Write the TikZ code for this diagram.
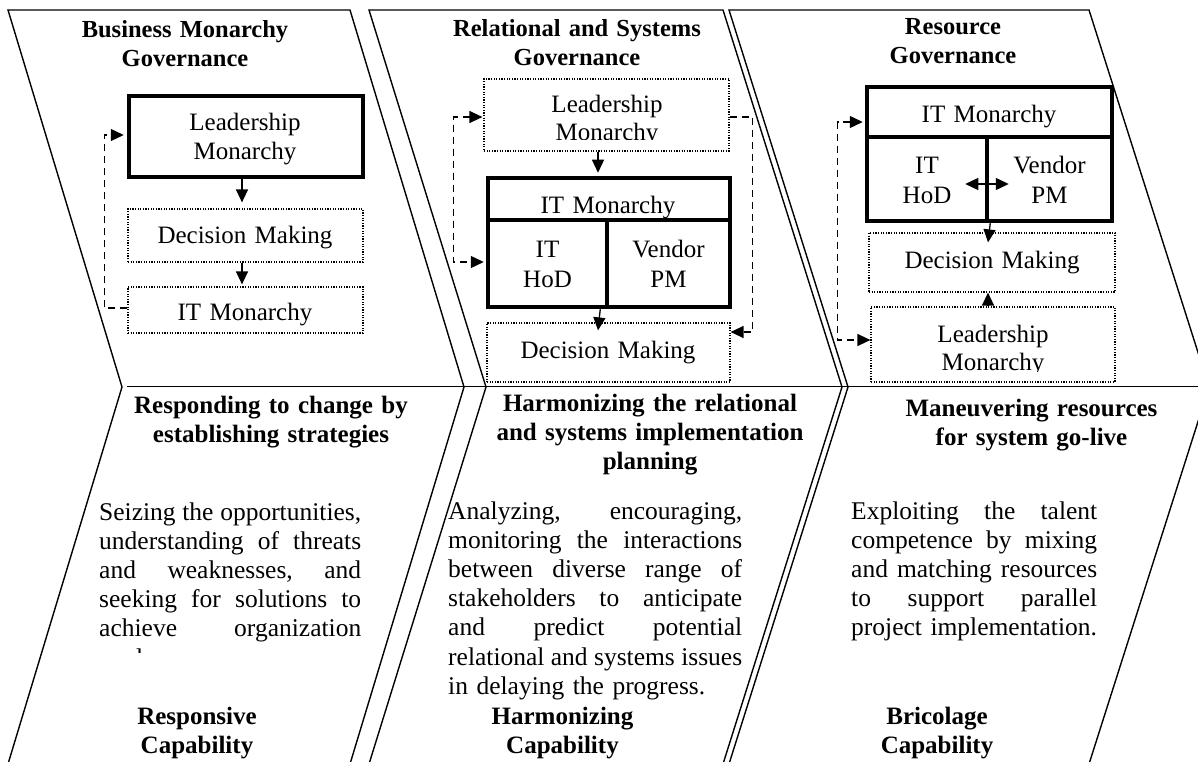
\documentclass[tikz,border=0pt]{standalone}
\usepackage{fontspec}
\setmainfont{Liberation Serif}
\usetikzlibrary{arrows.meta}
\newcommand\fullline[2]{\leavevmode\hbox to #1{#2}}
\begin{document}
\begin{tikzpicture}[x=1pt,y=-1pt,
  >={Triangle[length=13pt,width=12pt]},
  outline/.style={line width=1.4pt, line join=miter},
  thickbox/.style={draw, line width=4.5pt, inner sep=0pt},
  dotbox/.style={draw, line width=1.2pt, dash pattern=on 1.2pt off 1.4pt, inner sep=0pt},
  arr/.style={line width=1.3pt, ->},
  dsh/.style={line width=1.3pt, dash pattern=on 7pt off 5pt},
  boxtxt/.style={anchor=base, align=center, text width=220pt, inner sep=0pt, font=\fontsize{25}{29}\selectfont},
  ttl/.style={anchor=base, align=center, text width=340pt, inner sep=0pt, font=\bfseries\fontsize{24.5}{29}\selectfont},
  btl/.style={anchor=base, align=center, text width=360pt, inner sep=0pt, font=\bfseries\fontsize{25}{29}\selectfont},
  body/.style={anchor=base west, align=left, inner sep=0pt, font=\fontsize{25.5}{29.2}\selectfont}
]
\useasboundingbox (0,0) rectangle (1198,762);
\fill[white] (0,0) rectangle (1198,762);
\clip (0,0) rectangle (1198,762);

% chevron outlines
\draw[outline] (8,10) -- (350,10) -- (464,387) -- (350,764) -- (8,764) -- (122,387) -- cycle;
\draw[outline] (369,10) -- (723,10) -- (842,387) -- (723,764) -- (369,764) -- (486,387) -- cycle;
\draw[outline] (729,10) -- (1089,10) -- (1209,387) -- (1089,764) -- (729,764) -- (848,387) -- cycle;
\draw[outline] (127,386.5) -- (1198,386.5);

% ---------- panel 1 ----------
\node[ttl] (T1) at (185,38) {Business Monarchy\\Governance};
\node[thickbox, minimum width=234pt, minimum height=81pt] (LM1) at (246,136.5) {};
\node[dotbox, minimum width=235pt, minimum height=53pt] (DM1) at (245.5,235.5) {};
\node[dotbox, minimum width=235pt, minimum height=46pt] (IT1) at (245.5,310) {};
\node[boxtxt] (LM1t) at (245,131) {Leadership\\Monarchy};
\node[boxtxt] (DM1t) at (245,243) {Decision Making};
\node[boxtxt] (IT1t) at (245,320) {IT Monarchy};
\draw[arr, shorten >=6pt] ([xshift=-4pt]LM1.south) -- ([xshift=-3.5pt]DM1.north);
\draw[arr, shorten >=2pt] ([xshift=-3.5pt]DM1.south) -- ([xshift=-3.5pt]IT1.north);
\draw[dsh, ->, shorten >=3pt] ([yshift=2pt]IT1.west) -- ++(-23,0) |- ([yshift=1.5pt]LM1.west);

% ---------- panel 2 ----------
\node[ttl] (T2) at (577,37) {Relational and Systems\\Governance};
\node[dotbox, minimum width=245pt, minimum height=72pt] (LM2) at (606.5,115) {};
\begin{scope}
  \clip (480,80) rectangle (735,139.5);
  \node[boxtxt, font=\fontsize{25}{28}\selectfont] (LM2t) at (607,113) {Leadership\\Monarchy};
\end{scope}
\node[thickbox, minimum width=242pt, minimum height=42pt] (ITM2) at (609,199) {};
\node[thickbox, minimum width=119pt, minimum height=87pt] (HOD2) at (547.5,263.5) {};
\node[thickbox, minimum width=123pt, minimum height=87pt] (VPM2) at (668.5,263.5) {};
\node[dotbox, minimum width=243pt, minimum height=59pt] (DM2) at (608.5,352.5) {};
\node[boxtxt] (ITM2t) at (608,213) {IT Monarchy};
\node[boxtxt, font=\fontsize{25}{30}\selectfont] (HOD2t) at (547.5,257) {IT\\HoD};
\node[boxtxt, font=\fontsize{25}{30}\selectfont] (VPM2t) at (668.5,257) {Vendor\\PM};
\node[boxtxt] (DM2t) at (608,358) {Decision Making};
\draw[arr, shorten >=3pt] ([xshift=-8.5pt]LM2.south) -- ([xshift=-11pt]ITM2.north);
\draw[arr] ([xshift=-9pt]HOD2.south east) -- ([xshift=-10.5pt,yshift=-8pt]DM2.north);
\draw[dsh, <->, shorten <=1pt, shorten >=2pt] ([yshift=-2pt]LM2.west) -- ++(-30,0) |- ([yshift=1.5pt]HOD2.west);
\draw[dsh, ->] ([yshift=-2pt]LM2.east) -- ++(23,0) |- ([yshift=20.5pt]DM2.east);

% ---------- panel 3 ----------
\node[ttl] (T3) at (953,35) {Resource\\Governance};
\node[thickbox, minimum width=245pt, minimum height=50pt] (ITM3) at (989.5,112) {};
\node[thickbox, minimum width=120pt, minimum height=84pt] (HOD3) at (927,179) {};
\node[thickbox, minimum width=125pt, minimum height=84pt] (VPM3) at (1049.5,179) {};
\node[dotbox, minimum width=246pt, minimum height=59pt] (DM3) at (992,262.5) {};
\node[dotbox, minimum width=244pt, minimum height=75pt] (LM3) at (993,344.5) {};
\node[boxtxt] (ITM3t) at (989,123) {IT Monarchy};
\node[boxtxt] (HOD3t) at (927,174) {IT\\HoD};
\node[boxtxt] (VPM3t) at (1049.5,174) {Vendor\\PM};
\node[boxtxt] (DM3t) at (992,268) {Decision Making};
\begin{scope}
  \clip (865,310) rectangle (1120,371);
  \node[boxtxt, font=\fontsize{25}{28}\selectfont] (LM3t) at (993,342) {Leadership\\Monarchy};
\end{scope}
\draw[line width=1.3pt, <->] ([xshift=-24pt,yshift=-5pt]HOD3.east) -- ([xshift=24pt,yshift=-5pt]VPM3.west);
\draw[arr] ([xshift=1pt]HOD3.south east) -- ([xshift=-4pt,yshift=-10pt]DM3.north);
\draw[arr] ([xshift=-5pt]LM3.north) -- ([xshift=-4pt]DM3.south);
\draw[dsh, <->, shorten <=2pt, shorten >=0pt] ([yshift=-10pt]ITM3.west) -- ++(-27,0) |- ([yshift=4.5pt]LM3.west);

% ---------- bottom texts ----------
\node[btl] (B1) at (271,413) {Responding to change by\\establishing strategies};
\node[btl] (B2) at (650,411) {Harmonizing the relational\\and systems implementation\\planning};
\node[btl] (B3) at (1031.5,416) {Maneuvering resources\\for system go-live};

\begin{scope}
  \clip (90,480) rectangle (380,652.5);
  \node[body, text width=262pt] (S1) at (99,520) {\fullline{262pt}{Seizing\hfill the\hfill opportunities,}\\
    \fullline{262pt}{understanding\hfill of\hfill threats}\\
    \fullline{262pt}{and\hfill weaknesses,\hfill and}\\
    \fullline{262pt}{seeking\hfill for\hfill solutions\hfill to}\\
    \fullline{262pt}{achieve\hfill organization}\\
    goals.};
\end{scope}
\node[body, text width=294pt] (S2) at (448,519) {\fullline{294pt}{Analyzing,\hfill encouraging,}\\
  \fullline{294pt}{monitoring\hfill the\hfill interactions}\\
  \fullline{294pt}{between\hfill diverse\hfill range\hfill of}\\
  \fullline{294pt}{stakeholders\hfill to\hfill anticipate}\\
  \fullline{294pt}{and\hfill predict\hfill potential}\\
  \fullline{294pt}{relational\hfill and\hfill systems\hfill issues}\\
  in delaying the progress.};
\node[body, text width=246pt] (S3) at (851,519) {\fullline{246pt}{Exploiting\hfill the\hfill talent}\\
  \fullline{246pt}{competence\hfill by\hfill mixing}\\
  \fullline{246pt}{and\hfill matching\hfill resources}\\
  \fullline{246pt}{to\hfill support\hfill parallel}\\
  project implementation.};

\node[btl] (C1) at (197,724) {Responsive\\Capability};
\node[btl] (C2) at (562.5,724) {Harmonizing\\Capability};
\node[btl] (C3) at (937,724) {Bricolage\\Capability};
\end{tikzpicture}
\end{document}
